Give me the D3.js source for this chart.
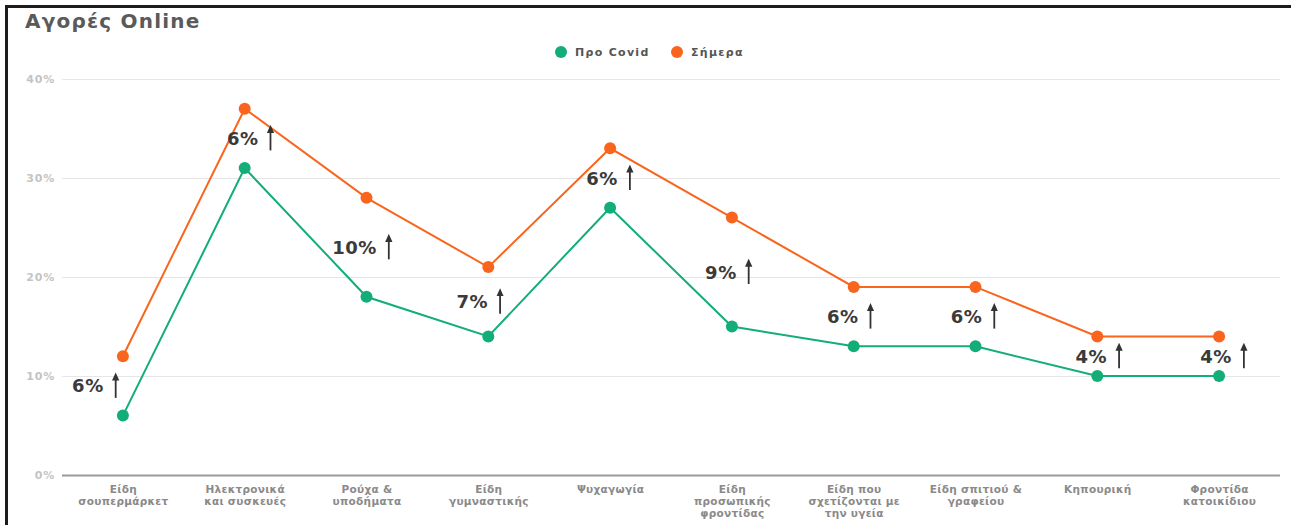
<!DOCTYPE html>
<html><head><meta charset="utf-8">
<script src="https://cdn.jsdelivr.net/npm/d3@7"></script>
<style>
html,body{margin:0;padding:0;background:#fff;}
svg{display:block;}
</style></head>
<body>
<svg id="chart" width="1291" height="525"></svg>
<script>
const categories = [
  ["Είδη","σουπερμάρκετ"],
  ["Ηλεκτρονικά","και συσκευές"],
  ["Ρούχα &","υποδήματα"],
  ["Είδη","γυμναστικής"],
  ["Ψυχαγωγία"],
  ["Είδη","προσωπικής","φροντίδας"],
  ["Είδη που","σχετίζονται με","την υγεία"],
  ["Είδη σπιτιού &","γραφείου"],
  ["Κηπουρική"],
  ["Φροντίδα","κατοικίδιου"]
];
const seriesNames = ["Προ Covid", "Σήμερα"];
const preCovid = [6, 31, 18, 14, 27, 15, 13, 13, 10, 10];
const today = [12, 37, 28, 21, 33, 26, 19, 19, 14, 14];
const changeLabels = ["6%", "6%", "10%", "7%", "6%", "9%", "6%", "6%", "4%", "4%"];
const yTicks = [0, 10, 20, 30, 40];

// layout-only horizontal nudges of the change annotations (px)
const annDx = [-35, -2, -12, -16, -8, -11, -11, -9, -6, -3];

const colors = ["#13ad78", "#f9651d"];
const svg = d3.select("#chart");
const W = 1291, H = 525;
const mLeft = 62, mRight = 1280, mTop = 79, mBottom = 475;

// frame
svg.append("rect").attr("x",0).attr("y",0).attr("width",W).attr("height",H).attr("fill","#fff");
svg.append("rect").attr("x",5).attr("y",5).attr("width",W-5).attr("height",3).attr("fill","#1c1c1c");
svg.append("rect").attr("x",5).attr("y",5).attr("width",3).attr("height",H-5).attr("fill","#1c1c1c");

const x = d3.scalePoint().domain(d3.range(categories.length)).range([mLeft, mRight]).padding(0.5);
const y = d3.scaleLinear().domain([0, 40]).range([mBottom, mTop]);

// title
svg.append("text").attr("x",25).attr("y",28).text("Αγορές Online")
  .attr("font-family","DejaVu Sans").attr("font-weight","bold").attr("font-size",20)
  .attr("letter-spacing",1.2).attr("fill","#5a5a5a");

// grid + y axis
const yAxis = d3.axisLeft(y).tickValues(yTicks).tickSize(-(mRight-mLeft)).tickFormat(d => d + "%");
const gy = svg.append("g").attr("transform",`translate(${mLeft},0)`).call(yAxis);
gy.select(".domain").remove();
gy.selectAll(".tick line").attr("stroke","#e6e6e6").attr("stroke-width",1.2);
gy.selectAll(".tick").filter(d => d === 0).select("line").attr("stroke","#9a9a9a").attr("stroke-width",2);
gy.selectAll(".tick text").attr("x",-7).attr("fill","#c4c4c4")
  .attr("font-family","DejaVu Sans").attr("font-weight","bold").attr("font-size",11)
  .attr("letter-spacing",0.8);

// x axis labels
const xAxis = d3.axisBottom(x).tickSize(0).tickFormat("");
const gx = svg.append("g").attr("transform",`translate(0,${mBottom})`).call(xAxis);
gx.select(".domain").remove();
gx.selectAll(".tick").each(function(i){
  const t = d3.select(this).append("text").attr("text-anchor","middle")
    .attr("font-family","DejaVu Sans").attr("font-weight","bold").attr("font-size",10.5)
    .attr("letter-spacing",0.3).attr("fill","#8a8a8a");
  categories[i].forEach((line, k) => {
    t.append("tspan").attr("x",0).attr("y",18 + k*12).text(line);
  });
});

// lines and dots
const line = d3.line().x((d,i) => x(i)).y(d => y(d));
[preCovid, today].forEach((s, si) => {
  svg.append("path").datum(s).attr("d", line).attr("fill","none")
    .attr("stroke", colors[si]).attr("stroke-width", 2);
  svg.selectAll(null).data(s).enter().append("circle")
    .attr("cx",(d,i) => x(i)).attr("cy", d => y(d)).attr("r", 6).attr("fill", colors[si]);
});

// annotations
svg.append("defs").append("marker").attr("id","ah").attr("viewBox","0 0 10 10")
  .attr("refX",2).attr("refY",5).attr("markerWidth",4.5).attr("markerHeight",5).attr("orient","auto")
  .attr("markerUnits","strokeWidth")
  .append("path").attr("d","M0,0.5 L10,5 L0,9.5 Z").attr("fill","#333");
changeLabels.forEach((lab, i) => {
  const cy = y((preCovid[i] + today[i]) / 2);
  const tx = x(i) + annDx[i];
  const t = svg.append("text").attr("x", tx).attr("y", cy + 6.5).attr("text-anchor","middle")
    .attr("font-family","DejaVu Sans").attr("font-weight","bold").attr("font-size",18)
    .attr("letter-spacing",0.5).attr("fill","#3a3a3a").text(lab);
  const bw = t.node().getComputedTextLength();
  const ax = tx + bw/2 + 12;
  svg.append("line").attr("x1",ax).attr("x2",ax).attr("y1",cy + 12).attr("y2",cy - 7)
    .attr("stroke","#333").attr("stroke-width",1.8).attr("marker-end","url(#ah)");
});

// legend
const lg = svg.append("g").attr("font-family","DejaVu Sans").attr("font-weight","bold").attr("font-size",11)
  .attr("letter-spacing",1.3).attr("fill","#555");
const lx = [561, 677];
seriesNames.forEach((n, i) => {
  lg.append("circle").attr("cx", lx[i]).attr("cy", 52).attr("r", 6).attr("fill", colors[i]);
  lg.append("text").attr("x", lx[i] + 14).attr("y", 56).text(n);
});
</script>
</body></html>
